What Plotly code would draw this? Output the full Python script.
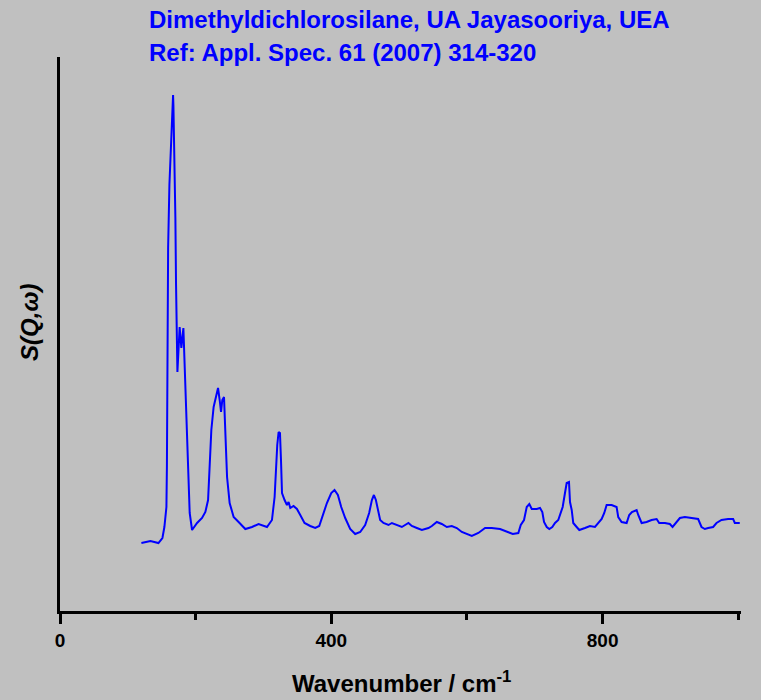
import plotly.graph_objects as go

# Dimethyldichlorosilane INS spectrum
wavenumber = [
    120.0, 133.3, 145.1, 151.0, 153.9, 156.9, 157.6, 158.3, 158.8, 159.4,
    161.3, 164.2, 166.7, 167.2, 168.6, 170.1, 171.1, 172.6, 173.1, 176.4,
    178.9, 181.9, 183.8, 186.3, 188.2, 191.2, 194.7, 202.1, 209.4, 214.3,
    218.3, 220.6, 223.1, 226.5, 230.5, 233.0, 235.4, 237.4, 239.3, 241.8,
    243.8, 246.3, 250.1, 256.0, 263.3, 273.2, 283.1, 292.8, 305.2, 312.5,
    316.4, 318.4, 320.3, 322.3, 324.3, 325.8, 327.3, 331.1, 334.6, 337.0,
    339.5, 344.3, 349.3, 354.2, 360.5, 368.9, 376.3, 382.2, 388.5, 393.5,
    399.9, 404.7, 409.7, 414.6, 420.5, 427.8, 435.2, 442.6, 449.9, 455.8,
    459.8, 462.8, 465.7, 468.6, 472.0, 476.9, 484.3, 489.3, 496.6, 504.0,
    513.7, 518.7, 526.1, 533.5, 543.2, 548.2, 555.5, 562.9, 570.3, 577.6,
    585.0, 592.4, 607.1, 616.8, 626.7, 636.5, 648.8, 658.6, 667.5, 675.7,
    679.3, 684.1, 688.1, 691.9, 695.5, 702.8, 707.7, 711.1, 713.6, 717.6,
    721.4, 725.8, 729.8, 734.6, 738.6, 741.1, 744.5, 747.0, 750.4, 751.9,
    754.4, 756.7, 761.7, 765.6, 774.0, 781.3, 788.7, 793.6, 798.6, 802.4,
    805.9, 813.3, 820.6, 823.0, 828.0, 835.4, 839.2, 843.2, 850.1, 852.5,
    857.5, 864.8, 872.2, 879.6, 883.4, 891.8, 899.1, 903.1, 906.5, 913.9,
    921.2, 928.6, 940.8, 945.8, 950.7, 955.6, 962.9, 967.9, 975.3, 985.0,
    992.4, 994.9, 1002.2,
]
intensity = [
    68, 70, 68, 73, 84, 104, 144, 211, 293, 363,
    426, 486, 516, 506, 459, 393, 326, 279, 239, 284,
    263, 283, 244, 178, 138, 98, 81, 88, 93, 99,
    111, 144, 181, 204, 216, 223, 211, 199, 211, 214,
    178, 134, 108, 94, 89, 82, 84, 87, 84, 91,
    114, 148, 166, 179, 178, 151, 118, 111, 106, 109,
    103, 105, 102, 96, 88, 85, 83, 85, 98, 108,
    118, 121, 116, 104, 93, 82, 77, 79, 86, 98,
    111, 116, 111, 103, 91, 88, 86, 88, 86, 84,
    88, 85, 83, 81, 83, 85, 89, 87, 84, 85,
    83, 79, 75, 78, 83, 83, 82, 79, 77, 78,
    86, 91, 104, 107, 102, 102, 103, 99, 89, 84,
    82, 84, 88, 91, 99, 104, 118, 128, 129, 109,
    101, 88, 84, 81, 83, 85, 84, 88, 92, 98,
    106, 106, 104, 94, 89, 88, 96, 99, 101, 96,
    88, 89, 91, 92, 88, 88, 87, 84, 87, 93,
    94, 93, 92, 84, 82, 83, 84, 88, 91, 92,
    92, 88, 88,
]

x_ticks = [0, 400, 800]
x_ticktext = ["0", "400", "800"]

bg = "#C0C0C0"
font_name = "Liberation Sans, Arial, sans-serif"

fig = go.Figure()
fig.add_trace(go.Scatter(x=wavenumber, y=intensity, mode="lines",
                         line=dict(color="#0000FF", width=2)))

fig.update_layout(
    width=761, height=700,
    margin=dict(l=60, r=20, t=57, b=89),
    paper_bgcolor=bg, plot_bgcolor=bg,
    showlegend=False,
    font=dict(family=font_name, color="black"),
)
fig.update_xaxes(
    range=[0, 1004], showgrid=False, zeroline=False,
    showline=True, linecolor="black", linewidth=2.5,
    ticks="outside", ticklen=10, tickwidth=2.5, tickcolor="black",
    tickvals=x_ticks, ticktext=x_ticktext,
    tickfont=dict(size=19, family=font_name, weight="bold"),
    minor=dict(dtick=200, tick0=0, ticks="outside", ticklen=6,
               tickwidth=2.5, tickcolor="black"),
)
fig.update_yaxes(
    range=[0, 554], showgrid=False, zeroline=False,
    showline=True, linecolor="black", linewidth=2.5,
    showticklabels=False, ticks="",
)

# titles
fig.add_annotation(text="<b>Dimethyldichlorosilane, UA Jayasooriya, UEA</b>",
                   xref="paper", yref="paper", x=0.128, y=1.0668,
                   xanchor="left", yanchor="middle", showarrow=False,
                   font=dict(size=24, color="#0000FF", family=font_name))
fig.add_annotation(text="<b>Ref: Appl. Spec. 61 (2007) 314-320</b>",
                   xref="paper", yref="paper", x=0.128, y=1.009,
                   xanchor="left", yanchor="middle", showarrow=False,
                   font=dict(size=24, color="#0000FF", family=font_name))
fig.add_annotation(text="<b>Wavenumber / cm<sup>-1</sup></b>",
                   xref="paper", yref="paper", x=0.502, y=-0.128,
                   xanchor="center", yanchor="middle", showarrow=False,
                   font=dict(size=24, family=font_name))
fig.add_annotation(text="<b><i>S(Q,ω)</i></b>",
                   xref="paper", yref="paper", x=-0.044, y=0.52,
                   xanchor="center", yanchor="middle", showarrow=False,
                   textangle=-90, font=dict(size=24, family=font_name))

fig.write_html("out.html", config={"displayModeBar": False},
               post_script="document.body.style.margin='0';"
                           "document.body.style.background='#C0C0C0';")
